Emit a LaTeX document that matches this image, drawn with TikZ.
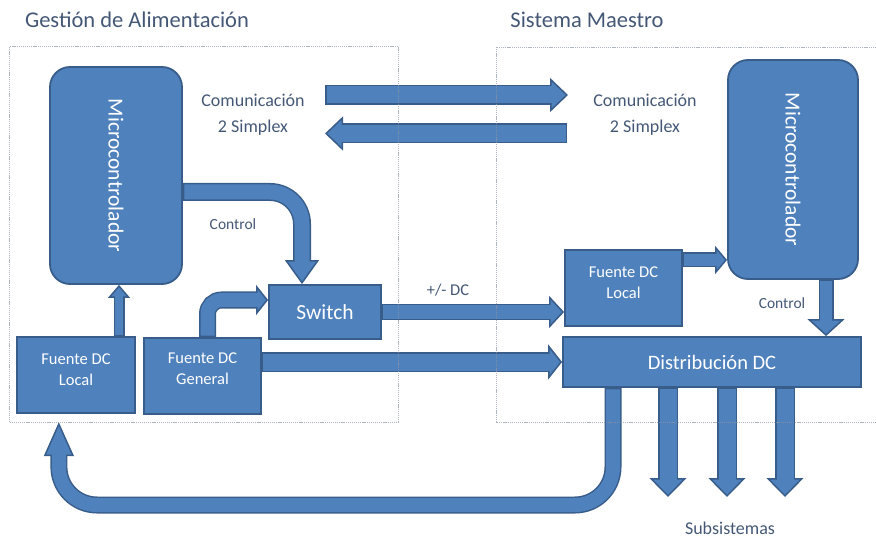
\documentclass[tikz,border=0pt]{standalone}
\usepackage{fontspec}
\usepackage{graphicx}
\setmainfont{Carlito}
\usetikzlibrary{arrows.meta}
\definecolor{bfill}{RGB}{79,129,189}
\definecolor{bdark}{RGB}{56,93,138}
\definecolor{tcol}{RGB}{68,88,118}
\definecolor{dcol}{RGB}{140,150,165}
\tikzset{
  blk/.style={draw=bdark, fill=bfill, line width=1.8pt, text=white, align=center, inner sep=0pt},
  mcu/.style={blk, rounded corners=20pt, font=\fontsize{21.5}{24}\selectfont},
  fbox/.style={blk, font=\fontsize{16.5}{21}\selectfont},
  lbl/.style={text=tcol, align=center, inner sep=0pt, font=\fontsize{18}{26}\selectfont},
  smlbl/.style={text=tcol, align=center, inner sep=0pt, font=\fontsize{15.5}{18}\selectfont},
  ttl/.style={text=tcol, inner sep=0pt, font=\fontsize{22.5}{26}\selectfont},
  frame/.style={draw=dcol, line width=0.7pt, dash pattern=on 1.2pt off 0.9pt},
}
\newcommand\barw[4]{%
  \pgfmathsetmacro\bwo{#1+3}\pgfmathsetmacro\bws{#3-2}%
  \draw[bdark, line width=\bwo pt, -{Triangle[length=#3pt, width=#2pt, fill=bfill, color=bdark, line width=1.5pt]}] #4;
  \draw[bfill, line width=#1pt, shorten <=1.5pt, shorten >=\bws pt] #4;
}
\newcommand\upstack[2]{\raisebox{#1}[0pt][0pt]{\begin{tabular}{@{}c@{}}#2\end{tabular}}}
\begin{document}
\begin{tikzpicture}[x=1pt,y=-1pt]
\useasboundingbox (0,0) rectangle (876,540);
% titles
\node[ttl] (gt) at (137,20) {Gestión de Alimentación};
\node[ttl] (st) at (587,20) {Sistema Maestro};
% blocks
\node[mcu, minimum width=132pt, minimum height=217pt] (mcuL) at (116,175.5) {\rotatebox{-90}{Microcontrolador}};
\node[mcu, minimum width=130pt, minimum height=219pt] (mcuR) at (793,169.5) {\rotatebox{-90}{Microcontrolador}};
\node[blk, minimum width=112pt, minimum height=54pt, font=\fontsize{21.5}{24}\selectfont] (sw) at (325,312) {Switch};
\node[fbox, minimum width=118pt, minimum height=76pt] (fdlL) at (76,375) {\upstack{0pt}{Fuente DC\\Local}};
\node[fbox, minimum width=117pt, minimum height=76pt] (fdg) at (202.5,376) {\upstack{1.5pt}{Fuente DC\\General}};
\node[fbox, minimum width=117pt, minimum height=76pt] (fdlR) at (623.5,288) {\upstack{0pt}{Fuente DC\\Local}};
\node[blk, minimum width=298pt, minimum height=50pt, font=\fontsize{20.5}{24}\selectfont] (dist) at (712,362) {Distribución DC};
% labels
\node[lbl] (comL) at (253,115) {Comunicación\\2 Simplex};
\node[lbl] (comR) at (645,115) {Comunicación\\2 Simplex};
\node[smlbl] (ctlL) at (233,224) {Control};
\node[smlbl] (ctlR) at (782,303) {Control};
\node[smlbl, font=\fontsize{16.5}{18}\selectfont] (pm) at (448,290) {+/- DC};
\node[lbl] (subs) at (730,528) {Subsistemas};
% frame node (drawn later on top)
\node[minimum width=388pt, minimum height=375pt, inner sep=0pt] (gframe) at (204,234.5) {};
% coordinates
\coordinate (c1a) at (325,95);
\coordinate (c1b) at (568,95);
\coordinate (c2a) at (567,133.5);
\coordinate (c2b) at (325,133.5);
\coordinate (k0) at ([yshift=-16.5pt]mcuL.east);
\coordinate (k1) at ([xshift=-23pt]sw.north);
\coordinate (l0) at ([xshift=43pt]fdlL.north);
\coordinate (g0) at ([xshift=5pt]fdg.north);
\coordinate (g1) at ([yshift=12pt]sw.west);
\coordinate (h0) at ([yshift=14pt]fdg.east);
\coordinate (r0) at ([yshift=28pt]fdlR.east);
\coordinate (q0) at ([xshift=33pt]mcuR.south);
\coordinate (s1) at (668,497);
\coordinate (s2) at (727,497);
\coordinate (s3) at (785,497);
\coordinate (f0) at ([xshift=-99pt]dist.south);
\coordinate (fbl) at (59,505);
\coordinate (ftip) at ([xshift=49pt]gframe.south west);
% arrows
\barw{17}{34}{18}{(c1a) -- (c1b)}
\barw{17}{34}{18}{(c2a) -- (c2b)}
\barw{15}{34}{24}{[rounded corners=32pt] (k0) -| (k1)}
\barw{8}{22}{13}{(l0) -- (l0 |- mcuL.south)}
\barw{14}{30}{12}{[rounded corners=14pt] (g0) |- (g1)}
\barw{13}{32}{15}{(sw.east) -- (sw.east -| fdlR.west)}
\barw{17}{35}{14}{(h0) -- (dist.west)}
\barw{12}{28}{12}{(r0) -- (r0 -| mcuR.west)}
\barw{12}{37}{17}{(q0) -- (q0 |- dist.north)}
\barw{17}{37}{19}{(s1 |- dist.south) -- (s1)}
\barw{17}{37}{19}{(s2 |- dist.south) -- (s2)}
\barw{17}{37}{19}{(s3 |- dist.south) -- (s3)}
\barw{14}{30}{34}{[rounded corners=38pt] (f0) |- (fbl) -- (ftip)}
% frames
\draw[frame, draw opacity=0.7] (gframe.south west) rectangle (gframe.north east);
\draw[frame, draw opacity=0.7] (876,47) -- (496,47) -- (496,422) -- (876,422);
\end{tikzpicture}
\end{document}
